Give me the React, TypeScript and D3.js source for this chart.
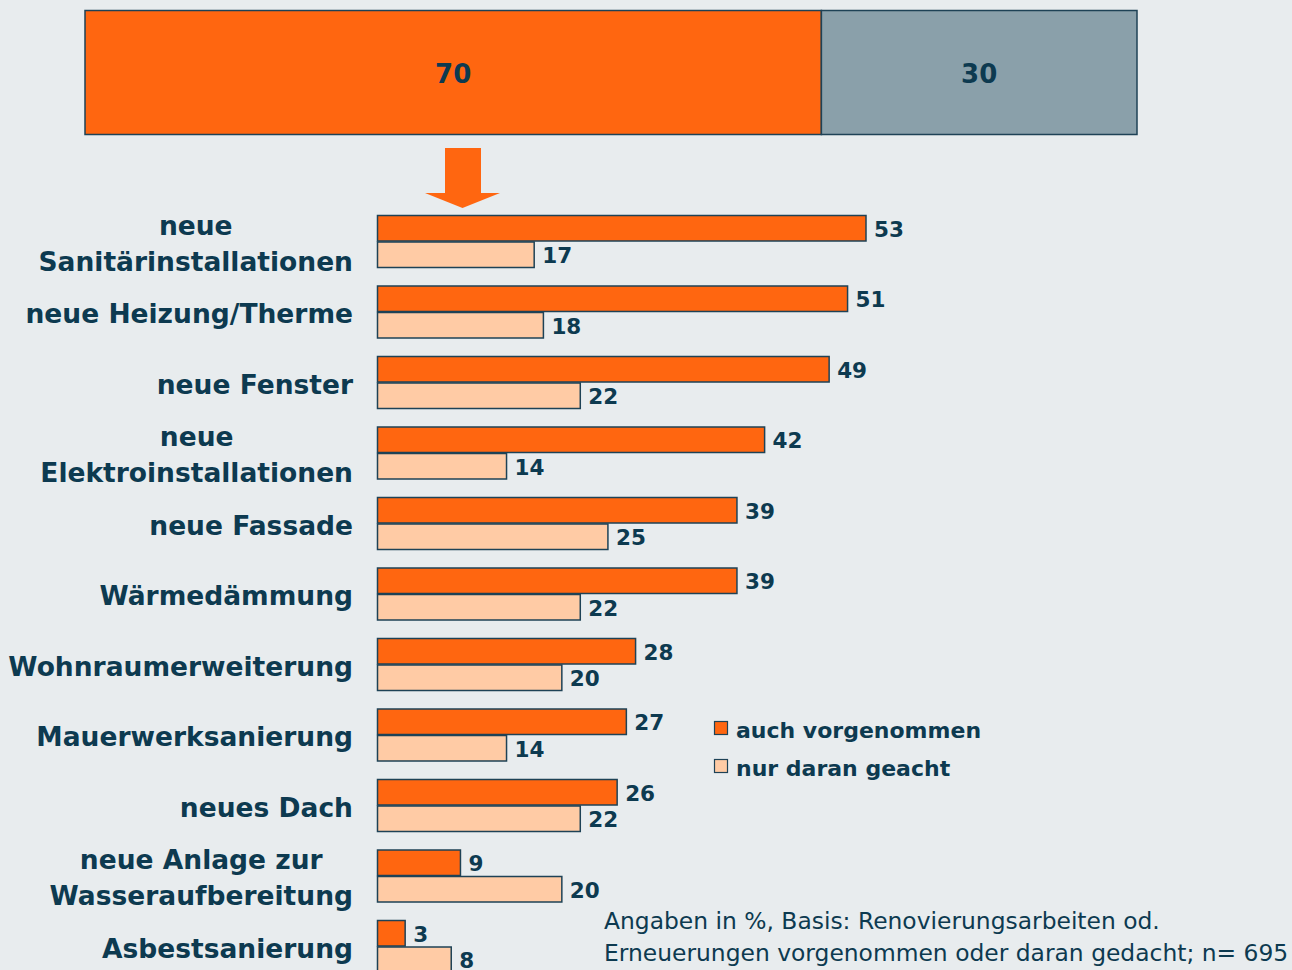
import React, { useEffect, useRef } from "react";
import * as d3 from "d3";

const topLabels = ["70", "30"];
const topValues = [70, 30];
const categories = [
  ["neue", "Sanitärinstallationen"],
  ["neue Heizung/Therme"],
  ["neue Fenster"],
  ["neue", "Elektroinstallationen"],
  ["neue Fassade"],
  ["Wärmedämmung"],
  ["Wohnraumerweiterung"],
  ["Mauerwerksanierung"],
  ["neues Dach"],
  ["neue Anlage zur", "Wasseraufbereitung"],
  ["Asbestsanierung"],
];
const auchVorgenommen = [53, 51, 49, 42, 39, 39, 28, 27, 26, 9, 3];
const nurDaranGeacht = [17, 18, 22, 14, 25, 22, 20, 14, 22, 20, 8];
const seriesNames = ["auch vorgenommen", "nur daran geacht"];
const footnote = [
  "Angaben in %, Basis: Renovierungsarbeiten od.",
  "Erneuerungen vorgenommen oder daran gedacht; n= 695",
];

const W = 1292, H = 970;
const BG = "#e8ecee";
const ORANGE = "#ff6610";
const LIGHT = "#ffcba5";
const GRAY = "#8aa0aa";
const STROKE = "#1e4256";
const TEXT = "#0d3a50";
const FONT = "Verdana, 'DejaVu Sans', sans-serif";

export default function App() {
  const ref = useRef<SVGSVGElement>(null);
  useEffect(() => {
    document.body.style.margin = "0";
    document.body.style.background = BG;
    const svg = d3.select(ref.current);
    svg.selectAll("*").remove();
    svg.append("rect").attr("width", W).attr("height", H).attr("fill", BG);

    // Top stacked bar
    const xTop = d3.scaleLinear().domain([0, 100]).range([85, 1137]);
    let cum = 0;
    const topColors = [ORANGE, GRAY];
    topValues.forEach((v, i) => {
      const x0 = xTop(cum), x1 = xTop(cum + v);
      svg.append("rect").attr("x", x0).attr("y", 10.5).attr("width", x1 - x0).attr("height", 124)
        .attr("fill", topColors[i]).attr("stroke", STROKE).attr("stroke-width", 1.5);
      svg.append("text").attr("x", (x0 + x1) / 2).attr("y", 83).attr("text-anchor", "middle")
        .attr("font-family", FONT).attr("font-weight", "bold").attr("font-size", 26).attr("fill", TEXT)
        .text(topLabels[i]);
      cum += v;
    });

    // Arrow
    svg.append("path")
      .attr("d", "M445,148 L481,148 L481,193 L500,193 L462.5,208 L425,193 L445,193 Z")
      .attr("fill", ORANGE);

    // Bars
    const x = d3.scaleLinear().domain([0, 53]).range([377.5, 866]);
    const y = d3.scaleBand<number>().domain(d3.range(categories.length))
      .range([215, 215 + 70.5 * categories.length]).paddingInner(0).paddingOuter(0);
    const bh = 26.5;
    const LS = 26.5;
    const g = svg.append("g");
    categories.forEach((cat, i) => {
      const top = y(i)!;
      const vals = [auchVorgenommen[i], nurDaranGeacht[i]];
      const cols = [ORANGE, LIGHT];
      vals.forEach((v, j) => {
        const yy = top + j * bh + 0.5;
        g.append("rect").attr("x", x(0)).attr("y", yy).attr("width", x(v) - x(0)).attr("height", bh - 1)
          .attr("fill", cols[j]).attr("stroke", STROKE).attr("stroke-width", 1.5);
        g.append("text").attr("x", x(v) + 8).attr("y", yy + bh / 2 + 8)
          .attr("font-family", FONT).attr("font-weight", "bold").attr("font-size", 21.5).attr("fill", TEXT)
          .text(String(v));
      });
      const center = top + bh;
      if (cat.length === 1) {
        g.append("text").attr("x", 353).attr("y", center + 11).attr("text-anchor", "end")
          .attr("font-family", FONT).attr("font-weight", "bold").attr("font-size", LS).attr("fill", TEXT)
          .text(cat[0]);
      } else {
        const t2 = g.append("text").attr("x", 353).attr("y", center + 29).attr("text-anchor", "end")
          .attr("font-family", FONT).attr("font-weight", "bold").attr("font-size", LS).attr("fill", TEXT)
          .text(cat[1]);
        const w = (t2.node() as SVGTextElement).getComputedTextLength();
        g.append("text").attr("x", 353 - w / 2).attr("y", center - 7).attr("text-anchor", "middle")
          .attr("font-family", FONT).attr("font-weight", "bold").attr("font-size", LS).attr("fill", TEXT)
          .text(cat[0]);
      }
    });

    // Legend
    const legCols = [ORANGE, LIGHT];
    seriesNames.forEach((s, i) => {
      const ly = 721 + i * 38;
      svg.append("rect").attr("x", 714.5).attr("y", ly + 0.5).attr("width", 13).attr("height", 13)
        .attr("fill", legCols[i]).attr("stroke", STROKE).attr("stroke-width", 1.2);
      svg.append("text").attr("x", 736).attr("y", ly + 17)
        .attr("font-family", FONT).attr("font-weight", "bold").attr("font-size", 22).attr("fill", TEXT)
        .text(s);
    });

    // Footnote
    footnote.forEach((f, i) => {
      svg.append("text").attr("x", 604).attr("y", 929 + i * 32)
        .attr("font-family", FONT).attr("font-size", 23.4).attr("fill", TEXT)
        .text(f);
    });
  }, []);
  return (
    <svg ref={ref} width={W} height={H}
      style={{ display: "block", position: "absolute", left: 0, top: 0 }} />
  );
}
